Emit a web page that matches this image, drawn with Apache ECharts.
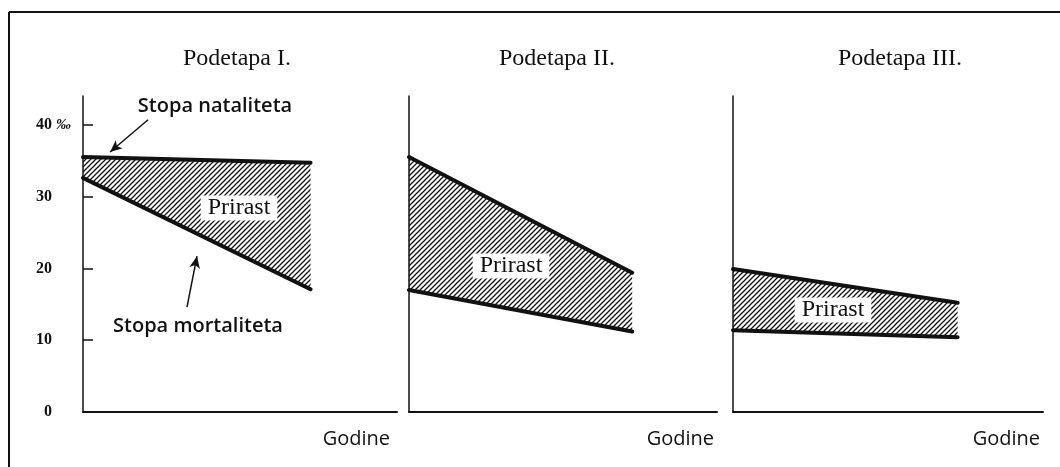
<!DOCTYPE html>
<html>
<head>
<meta charset="utf-8">
<script src="https://cdn.jsdelivr.net/npm/echarts@6/dist/echarts.min.js"></script>
<style>
  html, body { margin: 0; padding: 0; background: #fff; }
  #main { width: 1060px; height: 467px; }
</style>
</head>
<body>
<div id="main"></div>
<script>
// podaci, ocitani sa slike (promile)
var titles = ['Podetapa I.', 'Podetapa II.', 'Podetapa III.'];
var years = [0, 10];
var natalitet = [[35.5, 34.7], [35.5, 19.4], [19.9, 15.2]];
var mortalitet = [[32.6, 17.1], [17.0, 11.2], [11.4, 10.4]];
var yTicks = [10, 20, 30, 40];
var yLabels = [0, 10, 20, 30, 40];

// raspored panela
var grids = [
    {left: 83, top: 96, width: 314, height: 316},
    {left: 409, top: 96, width: 308, height: 316},
    {left: 733, top: 96, width: 310, height: 316}
];
var titleX = [232, 552, 895];
var godineGap = [-7, -3, -3];
var prirastPos = [[239, 208], [511, 266], [833, 310]];

// srafura
function hatch() {
    var s = 5;
    var c = document.createElement('canvas');
    c.width = s; c.height = s;
    var ctx = c.getContext('2d');
    ctx.strokeStyle = '#111';
    ctx.lineWidth = 1.3;
    ctx.beginPath();
    ctx.moveTo(0, s); ctx.lineTo(s, 0);
    ctx.moveTo(-1, 1); ctx.lineTo(1, -1);
    ctx.moveTo(s - 1, s + 1); ctx.lineTo(s + 1, s - 1);
    ctx.stroke();
    return c;
}
var pattern = {image: hatch(), repeat: 'repeat'};

function pairs(vals) {
    return years.map(function (x, i) { return [x, vals[i]]; });
}

var xAxes = [], yAxes = [], series = [], titleArr = [], graphics = [];

grids.forEach(function (g, i) {
    xAxes.push({
        type: 'value', gridIndex: i, min: 0, max: 13.8,
        axisLine: {show: true, onZero: false, lineStyle: {color: '#111', width: 2}},
        axisTick: {show: false}, axisLabel: {show: false}, splitLine: {show: false},
        name: 'Godine', nameLocation: 'end', nameGap: godineGap[i],
        nameTextStyle: {
            fontFamily: 'Open Sans', fontSize: 20, color: '#111',
            align: 'right', verticalAlign: 'top', padding: [17, 0, 0, 0]
        }
    });
    yAxes.push({
        type: 'value', gridIndex: i, min: 0, max: 44, interval: 10,
        axisLine: {show: true, lineStyle: {color: '#111', width: 1.5}},
        axisTick: {show: i === 0, inside: true, length: 10, customValues: yTicks,
            lineStyle: {color: '#111', width: 1.5}},
        axisLabel: {show: i === 0, customValues: yLabels, margin: 31,
            fontFamily: 'Liberation Serif', fontWeight: 'bold', fontSize: 16, color: '#111'},
        splitLine: {show: false}
    });

    var birth = natalitet[i], death = mortalitet[i];
    // srafirana povrsina izmedju dve stope
    series.push({
        type: 'custom', xAxisIndex: i, yAxisIndex: i, silent: true, z: 2,
        data: years.map(function (x, k) { return [x, birth[k], death[k]]; }),
        renderItem: function (params, api) {
            if (params.dataIndex !== 0) return null;
            var top = [], bottom = [];
            years.forEach(function (x, k) {
                top.push(api.coord([x, birth[k]]));
                bottom.unshift(api.coord([x, death[k]]));
            });
            return {
                type: 'polygon',
                shape: {points: top.concat(bottom)},
                style: {fill: pattern}
            };
        }
    });
    var birthLine = {
        type: 'line', xAxisIndex: i, yAxisIndex: i, data: pairs(birth),
        symbol: 'none', silent: true, z: 5,
        lineStyle: {color: '#111', width: 4, cap: 'round'}
    };
    if (i === 0) {
        // strelice kod natpisa
        birthLine.markLine = {
            silent: true, symbol: ['none', 'arrow'], symbolSize: [8, 12],
            label: {show: false},
            lineStyle: {color: '#111', width: 1.5, type: 'solid'},
            data: [
                [{coord: [2.86, 40.7]}, {coord: [1.19, 36.2]}],
                [{coord: [4.57, 14.6]}, {coord: [5.01, 21.7]}]
            ]
        };
    }
    series.push(birthLine);
    series.push({
        type: 'line', xAxisIndex: i, yAxisIndex: i, data: pairs(death),
        symbol: 'none', silent: true, z: 5,
        lineStyle: {color: '#111', width: 4, cap: 'round'}
    });

    titleArr.push({
        text: titles[i], left: titleX[i], top: 42, textAlign: 'center',
        textStyle: {fontFamily: 'Liberation Serif', fontSize: 24, fontWeight: 'normal', color: '#111'}
    });
    graphics.push({
        type: 'text', x: prirastPos[i][0], y: prirastPos[i][1], z: 10,
        style: {
            text: 'Prirast', fill: '#111', font: '24px "Liberation Serif"',
            align: 'center', verticalAlign: 'middle',
            backgroundColor: '#fff', padding: [1, 7, 0, 7]
        }
    });
});

graphics.push(
    {type: 'line', shape: {x1: 9, y1: 12, x2: 1060, y2: 12}, style: {stroke: '#111', lineWidth: 2}},
    {type: 'line', shape: {x1: 9, y1: 12, x2: 9, y2: 467}, style: {stroke: '#111', lineWidth: 2}},
    {type: 'text', x: 215, y: 106, style: {text: 'Stopa nataliteta', fill: '#111',
        font: '600 20px "Open Sans"', align: 'center', verticalAlign: 'middle'}},
    {type: 'text', x: 198, y: 326, style: {text: 'Stopa mortaliteta', fill: '#111',
        font: '600 20px "Open Sans"', align: 'center', verticalAlign: 'middle'}},
    {type: 'text', x: 56, y: 125, style: {text: '‰', fill: '#111',
        font: 'italic bold 15px "Liberation Serif"', align: 'left', verticalAlign: 'middle'}}
);

var myChart = echarts.init(document.getElementById('main'));
myChart.setOption({
    animation: false,
    backgroundColor: '#fff',
    title: titleArr,
    grid: grids,
    xAxis: xAxes,
    yAxis: yAxes,
    series: series,
    graphic: graphics
});
</script>
</body>
</html>
